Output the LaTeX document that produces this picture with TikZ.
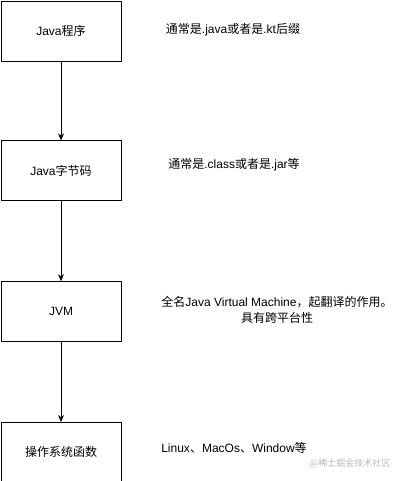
\documentclass[tikz,border=0pt]{standalone}
\usepackage{fontspec}
\setmainfont{Liberation Sans}
\newfontfamily\zh{Noto Sans CJK SC}
\usepackage{tikz}
\usetikzlibrary{positioning, arrows.meta}

\begin{document}
\begin{tikzpicture}[
  x=1pt, y=-1pt,
  node distance = 79pt,
  etapa/.style = {draw, line width=0.8pt, align=center, font=\fontsize{12}{14}\selectfont, minimum width=120pt, minimum height=60pt, inner sep=0pt},
  nota/.style = {align=center, font=\fontsize{12}{16}\selectfont, inner sep=0pt},
  seta/.style = {-{Stealth[length=7pt, width=6pt]}, line width=0.8pt},
]
\useasboundingbox (0,0) rectangle (401,481);
\node[etapa] (a) at (61,31) {Java{\zh 程序}};
\node[etapa, below=of a] (b) {Java{\zh 字节码}};
\node[etapa, below=80pt of b] (c) {JVM};
\node[etapa, below=80pt of c] (d) {{\zh 操作系统函数}};
\node[nota] (na) at (233,30) {{\zh 通常是}.java{\zh 或者是}.kt{\zh 后缀}};
\node[nota] (nb) at (234,165) {{\zh 通常是}.class{\zh 或者是}.jar{\zh 等}};
\node[nota] (nc) at (277,310) {{\zh 全名}Java Virtual Machine{\zh ，起翻译的作用。}\\{\zh 具有跨平台性}};
\node[nota] (nd) at (234,448) {Linux{\zh 、}MacOs{\zh 、}Window{\zh 等}};
\node[nota, font=\fontsize{9}{10}\selectfont, text=gray!55] (wm) at (350,463) {{\zh @稀土掘金技术社区}};
\draw[seta] (a) -- (b); \draw[seta] (b) -- (c); \draw[seta] (c) -- (d);
\end{tikzpicture}
\end{document}
